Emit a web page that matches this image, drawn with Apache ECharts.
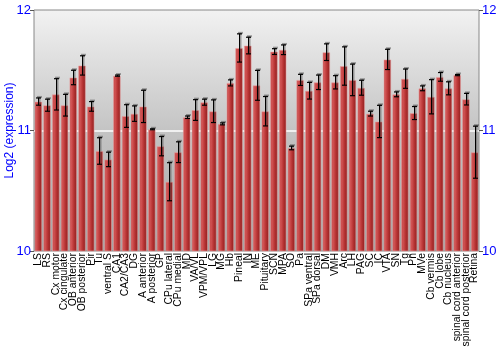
<!DOCTYPE html>
<html>
<head>
<meta charset="utf-8">
<script src="https://cdn.jsdelivr.net/npm/echarts@6/dist/echarts.min.js"></script>
<style>html,body{margin:0;padding:0;background:#fff}#c{width:500px;height:350px}</style>
</head>
<body>
<div id="c"></div>
<script>
const categories = ["LS","RS","Cx motor","Cx cingulate","OB anterior","OB posterior","Pir","Tu","ventral S","CA1","CA2/CA3","DG","A anterior","A posterior","GP","CPu lateral","CPu medial","MD","VA/VL","VPM/VPL","LG","MG","Hb","Pineal","IN","ME","Pituitary","SCN","MPA","SO","Pa","SPa ventral","SPa dorsal","DM","VMH","Arc","LH","PAG","SC","IC","VTA","SN","Tg","Pn","MVe","Cb vermis","Cb lobe","Cb nucleus","spinal cord anterior","spinal cord posterior","Retina"];
const values = [11.24,11.21,11.30,11.21,11.44,11.54,11.20,10.83,10.76,11.455,11.12,11.14,11.20,11.01,10.87,10.575,10.82,11.11,11.17,11.235,11.16,11.055,11.395,11.685,11.705,11.375,11.16,11.655,11.67,10.855,11.42,11.33,11.40,11.65,11.40,11.535,11.42,11.355,11.14,11.075,11.59,11.30,11.43,11.145,11.35,11.28,11.445,11.35,11.46,11.26,10.82];
const errors = [0.03,0.05,0.13,0.09,0.06,0.08,0.04,0.11,0.06,0.005,0.094,0.064,0.134,0.004,0.08,0.158,0.086,0.01,0.086,0.025,0.094,0.008,0.025,0.117,0.069,0.124,0.122,0.024,0.04,0.015,0.046,0.069,0.06,0.069,0.055,0.159,0.131,0.062,0.02,0.134,0.084,0.02,0.08,0.054,0.02,0.142,0.036,0.054,0.005,0.048,0.216];
const yTicks = [10, 11, 12];

const chart = echarts.init(document.getElementById('c'), null, {renderer: 'canvas'});
const errData = values.map((v, i) => [i, v - errors[i], v + errors[i]]);
const FONT = 'Liberation Sans, Arial, sans-serif';
const yAxisBase = {
  type: 'value', min: yTicks[0], max: yTicks[yTicks.length - 1], interval: 1,
  axisLine: {show: false},
  axisTick: {show: true, length: 4, lineStyle: {color: '#555'}},
  axisLabel: {color: '#0000ff', fontSize: 13, fontFamily: FONT, margin: 3}
};
chart.setOption({
  animation: false,
  grid: {
    left: 34, right: 21, top: 10, bottom: 99, show: true,
    containLabel: false, outerBoundsMode: 'none',
    borderColor: '#888', borderWidth: 1,
    backgroundColor: new echarts.graphic.LinearGradient(0, 0, 0, 1, [
      {offset: 0, color: '#f2f2f2'}, {offset: 0.5, color: '#c4c4c4'}, {offset: 1, color: '#a4a4a4'}
    ])
  },
  xAxis: {
    type: 'category', data: categories,
    axisLine: {show: false}, axisTick: {show: false},
    axisLabel: {rotate: 90, interval: 0, fontSize: 10.4, color: '#000', margin: 2, fontFamily: FONT}
  },
  yAxis: [
    Object.assign({}, yAxisBase, {
      position: 'left',
      name: 'Log2 (expression)', nameLocation: 'middle', nameGap: 18, nameMoveOverlap: false,
      nameTextStyle: {color: '#0000ff', fontSize: 12, fontFamily: FONT},
      splitLine: {show: true, lineStyle: {color: ['rgba(0,0,0,0)', '#ffffff', 'rgba(0,0,0,0)'], width: 1.5}}
    }),
    Object.assign({}, yAxisBase, {position: 'right', splitLine: {show: false}})
  ],
  series: [
    {
      type: 'bar', data: values, barCategoryGap: '12%',
      itemStyle: {
        color: new echarts.graphic.LinearGradient(0, 0, 1, 0, [
          {offset: 0, color: '#b83a3a'}, {offset: 0.25, color: '#d25454'},
          {offset: 0.6, color: '#b53232'}, {offset: 1, color: '#8a1e1e'}
        ]),
        borderColor: 'rgba(235,160,160,0.55)', borderWidth: 1
      }
    },
    {
      type: 'custom', data: errData, z: 5,
      renderItem: function (params, api) {
        const x = api.value(0);
        const lo = api.coord([x, api.value(1)]);
        const hi = api.coord([x, api.value(2)]);
        const cx = Math.round(lo[0]) + 0.5;
        const hw = 2.5;
        const sh = 'rgba(60,60,60,0.45)';
        return {
          type: 'group',
          children: [
            {type: 'line', shape: {x1: cx + 1, y1: hi[1] - 1, x2: cx + 1, y2: lo[1] - 1}, style: {stroke: sh, lineWidth: 2}},
            {type: 'line', shape: {x1: cx - hw + 1, y1: hi[1] - 1, x2: cx + hw + 1, y2: hi[1] - 1}, style: {stroke: sh, lineWidth: 2}},
            {type: 'line', shape: {x1: cx, y1: hi[1], x2: cx, y2: lo[1]}, style: {stroke: '#000', lineWidth: 1}},
            {type: 'line', shape: {x1: cx - hw, y1: hi[1], x2: cx + hw, y2: hi[1]}, style: {stroke: '#000', lineWidth: 1.2}},
            {type: 'line', shape: {x1: cx - hw, y1: lo[1], x2: cx + hw, y2: lo[1]}, style: {stroke: '#000', lineWidth: 1.2}}
          ]
        };
      }
    }
  ]
});
</script>
</body>
</html>
